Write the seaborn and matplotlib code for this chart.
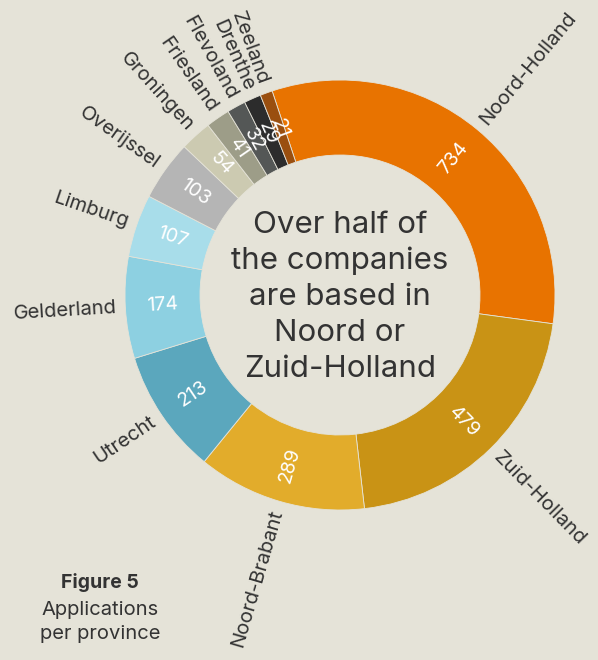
"""Donut chart: applications per province"""
import numpy as np
import matplotlib
matplotlib.use("Agg")
import matplotlib.pyplot as plt
import seaborn as sns

provinces = ["Noord-Holland", "Zuid-Holland", "Noord-Brabant", "Utrecht", "Gelderland",
             "Limburg", "Overijssel", "Groningen", "Friesland", "Flevoland", "Drenthe", "Zeeland"]
counts = [734, 479, 289, 213, 174, 107, 103, 54, 41, 32, 29, 21]
colors = ["#E87300", "#C99315", "#E2AC2B", "#5BA7BD", "#8DD0E1", "#A8DDEA",
          "#B5B5B5", "#CCCAB1", "#9D9D88", "#545756", "#2C2C2C", "#9A4F0F"]

bg = "#E5E3D8"
text_color = "#333333"

sns.set_theme(style="white")
plt.rcParams["font.family"] = ["Inter", "DejaVu Sans"]

fig = plt.figure(figsize=(5.98, 6.6), dpi=100, facecolor=bg)
ax = fig.add_axes([0, 0, 1, 1])
ax.set_facecolor(bg)

cx, cy = 340, 660 - 295
r_out, r_in = 215, 140
start = 108.4  # degrees, counter-clockwise from +x

wedges, _ = ax.pie(counts, colors=colors, startangle=start, counterclock=False,
                   radius=r_out, center=(cx, cy), frame=True,
                   wedgeprops=dict(width=r_out - r_in, edgecolor=bg, linewidth=0.6))
ax.set_xlim(0, 598)
ax.set_ylim(0, 660)
ax.set_aspect("equal")
ax.axis("off")

# labels rotated along the radius
for w, name, val in zip(wedges, provinces, counts):
    ang = (w.theta1 + w.theta2) / 2
    rad = np.deg2rad(ang)
    right_side = np.cos(rad) >= 0
    rot = ang if right_side else ang + 180
    rot = (rot + 180) % 360 - 180
    rm = (r_out + r_in) / 2
    ax.text(cx + rm * np.cos(rad), cy + rm * np.sin(rad), str(val), color="white",
            fontsize=14, rotation=rot, rotation_mode="anchor", ha="center", va="center")
    ro = r_out + 9
    ax.text(cx + ro * np.cos(rad), cy + ro * np.sin(rad), name, color=text_color,
            fontsize=14.5, rotation=rot, rotation_mode="anchor",
            ha="left" if right_side else "right", va="center")

ax.text(cx, cy - 2, "Over half of\nthe companies\nare based in\nNoord or\nZuid-Holland",
        ha="center", va="center", fontsize=22.5, color=text_color, linespacing=1.36)

ax.text(100, 660 - 583, "Figure 5", ha="center", va="center", fontsize=14,
        fontweight="bold", color=text_color)
ax.text(100, 660 - 622, "Applications\nper province", ha="center", va="center",
        fontsize=14.5, color=text_color, linespacing=1.42)

fig.savefig("out.png", dpi=100, facecolor=bg)
